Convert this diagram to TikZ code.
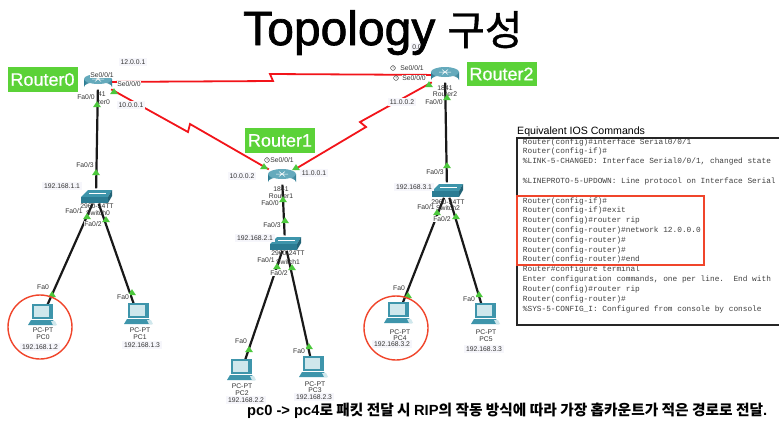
\documentclass[tikz,border=0pt]{standalone}
\usepackage{fontspec}
\setmainfont{Liberation Sans}
\setmonofont{Liberation Mono}
\newfontfamily\cjk{Noto Sans CJK KR}
\newfontfamily\cjktitle{Noto Sans CJK KR}[FakeBold=1]
\newfontfamily\titlefont{Liberation Sans}[FakeBold=1.5]
\newfontfamily\tagfont{Liberation Sans}[FakeBold=0.6]
\usepackage{tikz}
\usetikzlibrary{shapes.geometric}
\definecolor{linkred}{HTML}{F2141A}
\definecolor{tagred}{HTML}{F0452B}
\definecolor{tagfill}{HTML}{5BD238}
\definecolor{upgreen}{HTML}{4CC83C}
\definecolor{iconteal}{HTML}{3E95AB}
\definecolor{icondark}{HTML}{2B7C93}
\definecolor{iconlight}{HTML}{CFE7EC}
\definecolor{ipfill}{HTML}{F6F6FB}
\tikzset{
    devbox/.style={minimum width=26pt,minimum height=15pt,inner sep=0pt},
    serial/.style={color=linkred,line width=1.8pt},
    lan/.style={color=black!90,line width=2.2pt},
    uptri/.style={isosceles triangle,shape border rotate=90,isosceles triangle stretches,fill=upgreen,inner sep=0pt,minimum width=8pt,minimum height=6pt},
    tag/.style={fill=tagfill,text=white,font=\tagfont\fontsize{18}{20}\selectfont,minimum width=70pt,minimum height=24.5pt,inner sep=0pt},
    small/.style={font=\fontsize{6.8}{8}\selectfont,text=black!80,inner sep=0.7pt},
    port/.style={small,fill=white},
    ip/.style={small,fill=ipfill,inner sep=1.6pt},
    routerpic/.pic={
        \shade[left color=icondark,right color=icondark,middle color=iconlight] (-14,-3) -- (-14,5) arc[x radius=14,y radius=5,start angle=180,end angle=360] -- (14,-3) -- cycle;
        \fill[color=iconteal!80] (0,-3) ellipse[x radius=14,y radius=5];
        \draw[white,line width=0.5pt] (-6,-3) -- (6,-3) (-3,-5.5) -- (3,-0.5) (3,-5.5) -- (-3,-0.5);
    },
    switchpic/.pic={
        \fill[color=iconteal] (-15,1) -- (-8,-6) -- (16,-6) -- (12,1) -- cycle;
        \fill[color=icondark] (-15,1) -- (12,1) -- (12,7) -- (-15,7) -- cycle;
        \fill[color=icondark!80!black] (12,1) -- (16,-6) -- (16,0) -- (12,7) -- cycle;
        \draw[white,line width=0.3pt] (-7,-3) -- (10,-3);
    },
    pcpic/.pic={
        \fill[color=iconteal] (-10,-13) -- (11,-13) -- (11,2) -- (-10,2) -- cycle;
        \fill[color=iconlight] (-8,-11) -- (7,-11) -- (7,0) -- (-8,0) -- cycle;
        \fill[color=iconteal] (-11,3) -- (11,3) -- (14,8) -- (-14,8) -- cycle;
        \fill[color=iconlight] (9,4) -- (13,4) -- (15,8) -- (11,8) -- cycle;
    },
    clockpic/.pic={
        \draw[black!80,line width=0.4pt] (0,0) circle (2.4) (0,-1.7) -- (0,0) -- (1.4,0);
    }
}
\begin{document}
\begin{tikzpicture}[x=1pt,y=-1pt]
        \useasboundingbox (0,0) rectangle (779,445);
        \fill[white] (0,0) rectangle (779,445);
        % devices
        \node[devbox] (r0) at (98,82) {};
        \node[devbox] (r1) at (282,177) {};
        \node[devbox] (r2) at (445,75) {};
        \node[devbox] (s0) at (96,196) {};
        \node[devbox] (s1) at (285,243) {};
        \node[devbox] (s2) at (447,190) {};
        \node[devbox] (pc0) at (42,317) {};
        \node[devbox] (pc1) at (138,316) {};
        \node[devbox] (pc2) at (241,372) {};
        \node[devbox] (pc3) at (313,369) {};
        \node[devbox] (pc4) at (398,315) {};
        \node[devbox] (pc5) at (485,316) {};
        % bends of the serial links
        \coordinate (bendb) at (273,81);
        \coordinate (bendc) at (270,74);
        \coordinate (bendd) at (188,132);
        \coordinate (bende) at (190,124);
        \coordinate (bendf) at (366,127);
        \coordinate (bendg) at (360,122);
        \draw [serial] (r0) -- (bendb) -- (bendc) -- (r2);
        \draw [serial] (r0) -- (bendd) -- (bende) -- (r1);
        \draw [serial] (r1) -- (bendf) -- (bendg) -- (r2);
        \draw [lan] (r0) -- (s0);
        \draw [lan] (r1) -- (s1);
        \draw [lan] (r2) -- (s2);
        \draw [lan] (s0) -- (pc0);
        \draw [lan] (s0) -- (pc1);
        \draw [lan] (s1) -- (pc2);
        \draw [lan] (s1) -- (pc3);
        \draw [lan] (s2) -- (pc4);
        \draw [lan] (s2) -- (pc5);
        \foreach \n in {r0,r1,r2} \pic at (\n) {routerpic};
        \foreach \n in {s0,s1,s2} \pic at (\n) {switchpic};
        \foreach \n in {pc0,pc1,pc2,pc3,pc4,pc5} \pic at (\n) {pcpic};
        % names under the icons
        \foreach \px/\py/\txt [count=\i] in {102/94/41,104/102/ter0,281/189/1841,281/196/Router1,445/88/1841,445/94/Router2,
            97/206/2960-24TT,98/213/Switch0,288/253/2960-24TT,288/262/Switch1,448/202/2960-24TT,448/208/Switch2,
            43/330/PC-PT,43/337/PC0,140/330/PC-PT,140/337/PC1,242/386/PC-PT,242/393/PC2,315/384/PC-PT,315/390/PC3,400/332/PC-PT,400/338/PC4,486/332/PC-PT,486/339/PC5}
            \node[small] (name\i) at (\px,\py) {\txt};
        % green link lights
        \foreach \px/\py [count=\i] in {114/92,97/105,96/173,87/217,106/220,52/295,132/293,264/167,296/168,429/85,283/200,285/221,277/267,292/268,249/350,309/347,447/98,447/166,437/213,456/217,408/296,479/295}
            \node[uptri] (lamp\i) at (\px,\py) {};
        % port labels
        \foreach \px/\py/\txt [count=\i] in {102/75/{Se0/0/1},129/84/{Se0/0/0},86/97/{Fa0/0},85/165/{Fa0/3},74/211/{Fa0/1},93/224/{Fa0/2},43/287/Fa0,123/297/Fa0,
            282/160/{Se0/0/1},270/203/{Fa0/0},272/225/{Fa0/3},266/260/{Fa0/1},279/273/{Fa0/2},241/341/Fa0,299/351/Fa0,
            412/68/{Se0/0/1},414/78/{Se0/0/0},434/102/{Fa0/0},435/172/{Fa0/3},426/207/{Fa0/1},442/219/{Fa0/2},399/288/Fa0,469/299/Fa0}
            \node[port] (port\i) at (\px,\py) {\txt};
        % addresses
        \foreach \px/\py/\txt [count=\i] in {133/62/12.0.0.1,131/105/10.0.0.1,242/176/10.0.0.2,314/173/11.0.0.1,402/102/11.0.0.2,417/47/0.0,
            62/186/192.168.1.1,255/238/192.168.2.1,414/187/192.168.3.1,40/347/192.168.1.2,142/345/192.168.1.3,246/400/192.168.2.2,314/397/192.168.2.3,392/344/192.168.3.2,484/349/192.168.3.3}
            \node[ip] (addr\i) at (\px,\py) {\txt};
        \foreach \px/\py in {267/160,393/68,396/78} \pic at (\px,\py) {clockpic};
        % router tags
        \node[tag] (tag0) at (42.5,79.5) {Router0};
        \node[tag] (tag1) at (280,140.5) {Router1};
        \node[tag] (tag2) at (501.5,74) {Router2};
        % red rings
        \node[draw=tagred,line width=1.4pt,circle,minimum size=64pt,inner sep=0pt] (ring0) at (40,327) {};
        \node[draw=tagred,line width=1.4pt,circle,minimum size=64pt,inner sep=0pt] (ring4) at (396,328) {};
        % command window
        \node[anchor=west,inner sep=0pt,font=\fontsize{10.6}{12}\selectfont] (cmdtitle) at (517,132) {Equivalent IOS Commands};
        \node[anchor=north west,inner sep=0pt,align=left,text=black!75,font=\ttfamily\fontsize{7.8}{9.82}\selectfont] (cmdtext) at (522.7,138.3) {%
            Router(config)\#interface Serial0/0/1\\
            Router(config-if)\#\\
            \%LINK-5-CHANGED: Interface Serial0/0/1, changed state\\
            \mbox{}\\
            \%LINEPROTO-5-UPDOWN: Line protocol on Interface Serial\\
            \mbox{}\\
            Router(config-if)\#\\
            Router(config-if)\#exit\\
            Router(config)\#router rip\\
            Router(config-router)\#network 12.0.0.0\\
            Router(config-router)\#\\
            Router(config-router)\#\\
            Router(config-router)\#end\\
            Router\#configure terminal\\
            Enter configuration commands, one per line.\ \ End with\\
            Router(config)\#router rip\\
            Router(config-router)\#\\
            \%SYS-5-CONFIG\_I: Configured from console by console};
        \coordinate (boxa) at (517,138);
        \coordinate (boxb) at (790,325);
        \draw[black!85,line width=1.4pt] (boxa) rectangle (boxb);
        \coordinate (marka) at (517,196);
        \coordinate (markb) at (704,265);
        \draw[tagred,line width=1.2pt] (marka) rectangle (markb);
        % title and note
        \node[anchor=base west,inner sep=0pt,font=\titlefont\fontsize{48}{54}\selectfont] (title) at (243,45) {Topology};
        \node[anchor=base west,inner sep=0pt,font=\cjktitle\fontsize{41}{46}\selectfont] (titleko) at (447,45) {구성};
        \node[anchor=west,inner sep=0pt,font=\bfseries\fontsize{14.7}{16}\selectfont] (note) at (247,411) {pc0 -> pc4{\cjk 로 패킷 전달 시 }RIP{\cjk 의 작동 방식에 따라 가장 홉카운트가 적은 경로로 전달}.};
    \end{tikzpicture}
\end{document}
